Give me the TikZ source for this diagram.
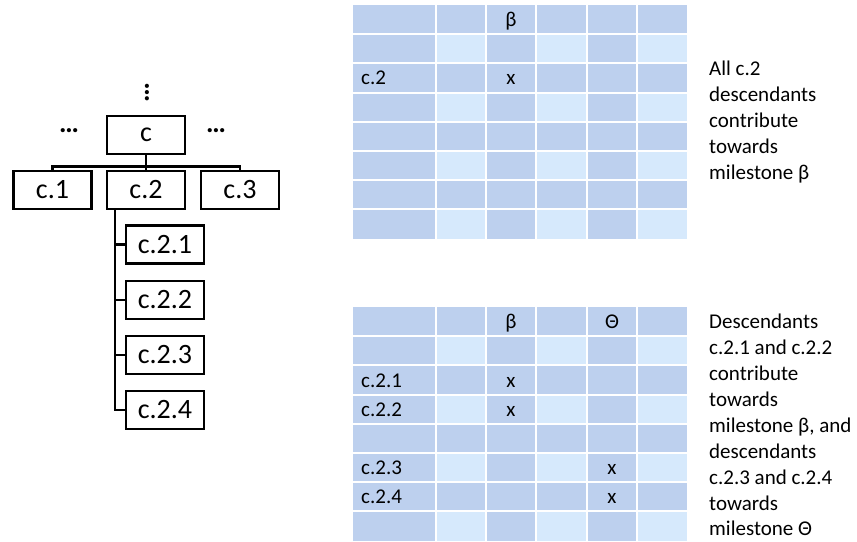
\documentclass[tikz,border=0pt]{standalone}
\usepackage{fontspec}
\setmainfont{Carlito}
\usetikzlibrary{positioning}
\definecolor{griddark}{RGB}{189,208,238}
\definecolor{gridlight}{RGB}{214,233,252}
\tikzset{
    treebox/.style = {rectangle, line width=2.6pt, draw=black, fill=white, minimum width=78pt, minimum height=38pt, inner sep=0pt, font=\fontsize{28}{34}\selectfont, text=black},
    treedots/.style = {inner sep=0pt, font=\fontsize{28}{34}\selectfont\bfseries, text=black},
    edget/.style = {-, line width=2.4pt, black},
    cellline/.style = {-, line width=2pt, white},
    celltext/.style = {anchor=base, inner sep=0pt, font=\fontsize{21}{26}\selectfont, text=black},
    celltextl/.style = {anchor=base west, inner sep=0pt, font=\fontsize{21}{26}\selectfont, text=black},
    note/.style = {anchor=north west, align=left, inner sep=0pt, font=\fontsize{21}{25.9}\selectfont, text=black}
}

\begin{document}
\begin{tikzpicture}[x=1pt, y=-1pt]
\path[use as bounding box] (0,0) rectangle (857,541);
% tree
\node[treedots, rotate=90] (vdots) at (147,93) {…};
\node[treedots] (ldots) at (69,131) {…};
\node[treedots] (rdots) at (216,131) {…};
\node[treebox] at (146.0, 135.0) (c) {c};
\node[treebox] at (52.5, 190.0) (c1) {c.1};
\node[treebox] at (146.0, 190.0) (c2) {c.2};
\node[treebox] at (240.0, 190.0) (c3) {c.3};
\node[treebox] at (165.0, 244.5) (c21) {c.2.1};
\node[treebox] at (165.0, 300.0) (c22) {c.2.2};
\node[treebox] at (165.0, 355.0) (c23) {c.2.3};
\node[treebox] at (165.0, 410.0) (c24) {c.2.4};
%
\path (c.south) ++(0,11) coordinate (bus);
\path (c2.south west) ++(9,0) coordinate (trunk);
\draw[edget] (c.south) -- (c2.north);
\draw[edget] (c1.north) |- (bus) -| (c3.north);
\draw[edget] (trunk) |- (c24.west);
\draw[edget] (trunk) |- (c21.west);
\draw[edget] (trunk) |- (c22.west);
\draw[edget] (trunk) |- (c23.west);

% tables
\foreach \top in {5,307}{
  \fill[griddark] (353,\top) rectangle (687,\top+233.6);
  \foreach \r in {1,3,5,7}
    \foreach \c in {0,2,4}
      \fill[gridlight] (436+\c*50.2,\top+\r*29.2) rectangle ++(50.2,29.2);
  \foreach \c in {0,...,4}
    \draw[cellline] (436+\c*50.2,\top) -- ++(0,233.6);
  \foreach \r in {1,...,7}
    \draw[cellline] (353,\top+\r*29.2) -- ++(334,0);
}
\node[celltext] (beta1) at (511,26.6) {β};
\node[celltextl] (row1) at (361,84.5) {c.2};
\node[celltext] (x1) at (511,84.5) {x};
%
\node[celltext] (beta2) at (511,328.6) {β};
\node[celltext] (theta2) at (612,328.6) {Θ};
\node[celltextl] (row21) at (361,387.0) {c.2.1};
\node[celltextl] (row22) at (361,416.2) {c.2.2};
\node[celltextl] (row23) at (361,474.6) {c.2.3};
\node[celltextl] (row24) at (361,503.8) {c.2.4};
\node[celltext] (x21) at (511,387.0) {x};
\node[celltext] (x22) at (511,416.2) {x};
\node[celltext] (x23) at (612,474.6) {x};
\node[celltext] (x24) at (612,503.8) {x};

% notes
\node[note] (note1) at (709,61) {All c.2\\descendants\\contribute\\towards\\milestone β};
\node[note] (note2) at (709,314) {Descendants\\c.2.1 and c.2.2\\contribute\\towards\\milestone β, and\\descendants\\c.2.3 and c.2.4\\towards\\milestone Θ};
\end{tikzpicture}
\end{document}
